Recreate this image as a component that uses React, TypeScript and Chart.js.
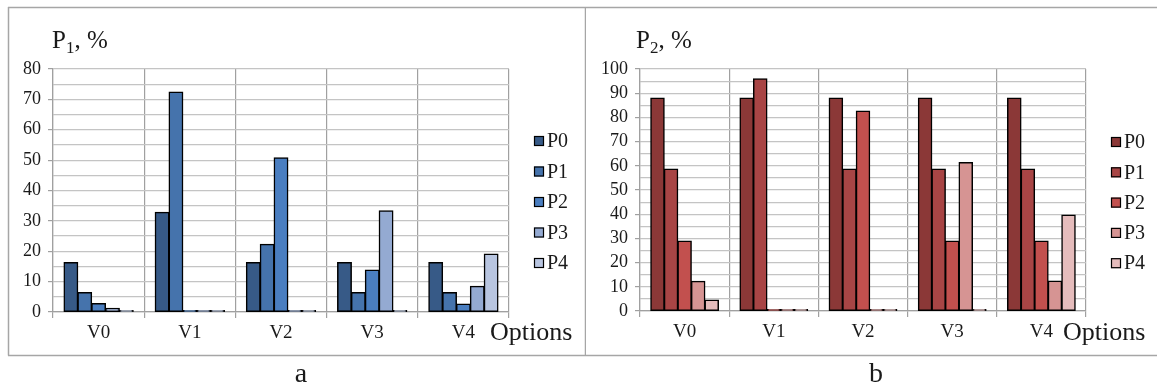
import React, { useEffect, useRef } from 'react';
import { Chart, registerables } from 'chart.js';

Chart.register(...registerables);

// ---------- data ----------
const categories = ['V0', 'V1', 'V2', 'V3', 'V4'];
const seriesLabels = ['P0', 'P1', 'P2', 'P3', 'P4'];

// Panel a: P1, %
const aP0 = [16.3, 32.8, 16.3, 16.3, 16.3];
const aP1 = [6.4, 72.4, 22.3, 6.4, 6.4];
const aP2 = [2.8, 0.5, 50.8, 13.8, 2.6];
const aP3 = [1.2, 0.5, 0.5, 33.3, 8.5];
const aP4 = [0.5, 0.5, 0.5, 0.5, 19.1];

// Panel b: P2, %
const bP0 = [88, 88, 88, 88, 88];
const bP1 = [58.7, 96, 58.7, 58.7, 58.7];
const bP2 = [28.9, 0.6, 82.6, 28.9, 28.9];
const bP3 = [12.3, 0.6, 0.6, 61.4, 12.4];
const bP4 = [4.5, 0.6, 0.6, 0.6, 39.7];

const aMax = 80;
const bMax = 100;
const gridStep = 5;
const labelStep = 10;

const aColors = ['#375A87', '#4573AC', '#4A7EC0', '#94AAD2', '#B8C5E0'];
const bColors = ['#8B3837', '#A84545', '#C2504E', '#D69493', '#E5BCBC'];

const FONT = '"Liberation Serif", "Times New Roman", serif';
const TEXT = '#1a1a1a';

type Panel = {
  series: number[][];
  colors: string[];
  yMax: number;
  sub: string;
  width: number;
  axisW: number;
  top: number;
  xAxisH: number;
  padRight: number;
  titleX: number;
  legendX: number;
  legendY0: number;
  legendStep: number;
  optionsX: number;
  letter: string;
  letterX: number;
  frame: (ctx: CanvasRenderingContext2D, w: number) => void;
};

const FRAME = '#A6A6A6';

const panelA: Panel = {
  series: [aP0, aP1, aP2, aP3, aP4],
  colors: aColors,
  yMax: aMax,
  sub: '1',
  width: 586,
  axisW: 53,
  top: 69,
  xAxisH: 78,
  padRight: 77,
  titleX: 52,
  legendX: 534,
  legendY0: 141,
  legendStep: 30.5,
  optionsX: 490,
  letter: 'a',
  letterX: 301,
  frame: (ctx) => {
    ctx.beginPath();
    ctx.moveTo(8, 7.5);
    ctx.lineTo(586, 7.5);
    ctx.moveTo(8.5, 7);
    ctx.lineTo(8.5, 355.5);
    ctx.moveTo(8, 355.5);
    ctx.lineTo(586, 355.5);
    ctx.moveTo(585.5, 7);
    ctx.lineTo(585.5, 356);
    ctx.stroke();
  },
};

const panelB: Panel = {
  series: [bP0, bP1, bP2, bP3, bP4],
  colors: bColors,
  yMax: bMax,
  sub: '2',
  width: 571,
  axisW: 54,
  top: 69,
  xAxisH: 79,
  padRight: 71,
  titleX: 50,
  legendX: 525,
  legendY0: 142,
  legendStep: 30.3,
  optionsX: 477,
  letter: 'b',
  letterX: 290,
  frame: (ctx, w) => {
    ctx.beginPath();
    ctx.moveTo(0, 7.5);
    ctx.lineTo(w, 7.5);
    ctx.moveTo(0, 355.5);
    ctx.lineTo(w, 355.5);
    ctx.stroke();
  },
};

function makeChart(canvas: HTMLCanvasElement, p: Panel) {
  const decor = {
    id: 'decor',
    beforeDraw(chart: any) {
      const ctx = chart.ctx as CanvasRenderingContext2D;
      ctx.save();
      ctx.fillStyle = '#fff';
      ctx.fillRect(0, 0, chart.width, chart.height);
      ctx.strokeStyle = FRAME;
      ctx.lineWidth = 1.5;
      p.frame(ctx, chart.width);
      ctx.restore();
    },
    afterDraw(chart: any) {
      const ctx = chart.ctx as CanvasRenderingContext2D;
      ctx.save();
      ctx.fillStyle = TEXT;
      ctx.textBaseline = 'alphabetic';
      ctx.textAlign = 'left';
      // title P_n, %
      ctx.font = `25px ${FONT}`;
      let x = p.titleX;
      ctx.fillText('P', x, 48);
      x += ctx.measureText('P').width;
      ctx.font = `17px ${FONT}`;
      ctx.fillText(p.sub, x, 53);
      x += ctx.measureText(p.sub).width;
      ctx.font = `25px ${FONT}`;
      ctx.fillText(', %', x, 48);

      // legend
      ctx.font = `20px ${FONT}`;
      ctx.textBaseline = 'middle';
      chart.data.datasets.forEach((ds: any, i: number) => {
        const y = p.legendY0 + i * p.legendStep;
        ctx.fillStyle = ds.backgroundColor;
        ctx.fillRect(p.legendX, y - 5, 10, 10);
        ctx.strokeStyle = '#000';
        ctx.lineWidth = 1.2;
        ctx.strokeRect(p.legendX + 0.5, y - 4.5, 9, 9);
        ctx.fillStyle = TEXT;
        ctx.fillText(ds.label, p.legendX + 13, y + 1);
      });

      // Options label
      ctx.font = `26px ${FONT}`;
      ctx.fillText('Options', p.optionsX, 333);

      // panel letter
      ctx.font = `28px ${FONT}`;
      ctx.textAlign = 'center';
      ctx.textBaseline = 'alphabetic';
      ctx.fillText(p.letter, p.letterX, 382);
      ctx.restore();
    },
  };

  return new Chart(canvas, {
    type: 'bar',
    data: {
      labels: categories,
      datasets: p.series.map((d, i) => ({
        label: seriesLabels[i],
        data: d,
        backgroundColor: p.colors[i],
        borderColor: '#000',
        borderWidth: 1.5,
        borderSkipped: false,
        inflateAmount: 0.5,
        categoryPercentage: 0.76,
        barPercentage: 1,
      })),
    },
    options: {
      responsive: false,
      animation: false,
      devicePixelRatio: 1,
      layout: { padding: { left: 0, top: p.top, right: p.padRight, bottom: 0 } },
      plugins: {
        legend: { display: false },
        title: { display: false },
        tooltip: { enabled: false },
      },
      scales: {
        x: {
          grid: {
            color: '#A0A0A0',
            lineWidth: 1.2,
            tickLength: 6,
            offset: true,
          },
          border: { color: '#A0A0A0', width: 1.2 },
          ticks: {
            color: TEXT,
            font: { family: FONT, size: 19 },
            padding: 4,
          },
          afterFit: (s: any) => {
            s.height = p.xAxisH;
          },
        },
        y: {
          min: 0,
          max: p.yMax,
          grid: {
            color: '#C4C4C4',
            lineWidth: 1.2,
            tickLength: 5,
            tickColor: (c: any) => (c.tick && c.tick.value % labelStep === 0 ? '#A0A0A0' : 'rgba(0,0,0,0)'),
          },
          border: { color: '#A0A0A0', width: 1.2 },
          ticks: {
            stepSize: gridStep,
            autoSkip: false,
            color: TEXT,
            font: { family: FONT, size: 18 },
            padding: 7,
            callback: (v: any) => (Number(v) % labelStep === 0 ? String(v) : ''),
          },
          afterFit: (s: any) => {
            s.width = p.axisW;
          },
        },
      },
    },
    plugins: [decor],
  } as any);
}

export default function App() {
  const refA = useRef<HTMLCanvasElement>(null);
  const refB = useRef<HTMLCanvasElement>(null);

  useEffect(() => {
    const cA = makeChart(refA.current!, panelA);
    const cB = makeChart(refB.current!, panelB);
    return () => {
      cA.destroy();
      cB.destroy();
    };
  }, []);

  return (
    <div style={{ position: 'fixed', left: 0, top: 0, width: 1157, height: 390, background: '#fff' }}>
      <canvas
        ref={refA}
        width={panelA.width}
        height={390}
        style={{ position: 'absolute', left: 0, top: 0, width: panelA.width, height: 390 }}
      />
      <canvas
        ref={refB}
        width={panelB.width}
        height={390}
        style={{ position: 'absolute', left: 586, top: 0, width: panelB.width, height: 390 }}
      />
    </div>
  );
}
